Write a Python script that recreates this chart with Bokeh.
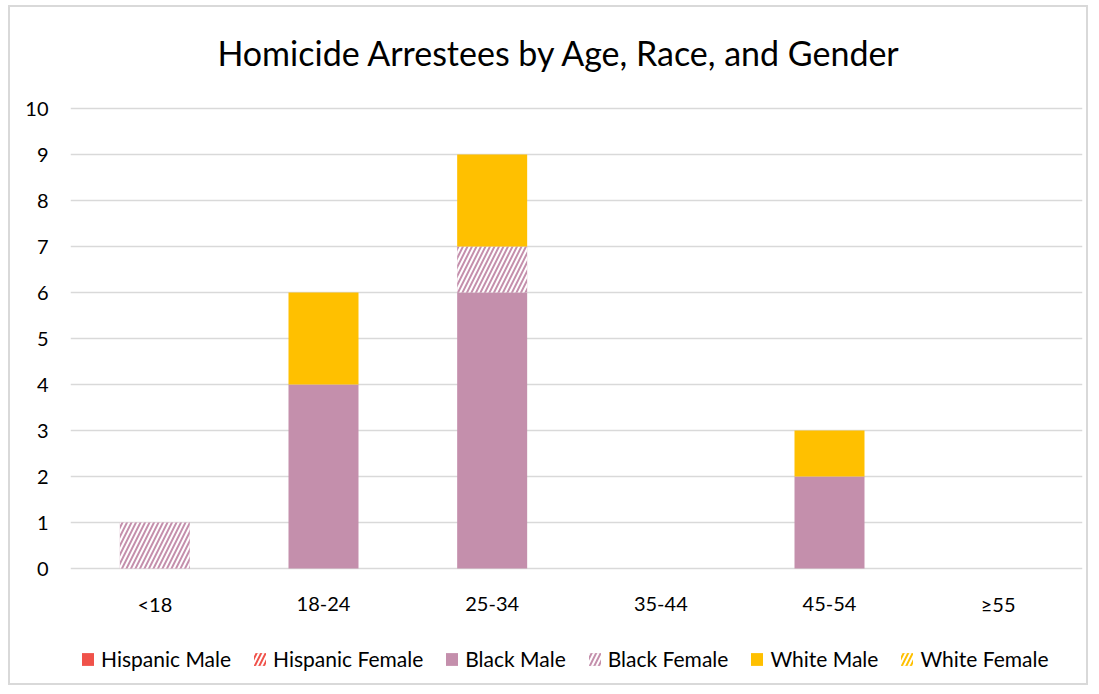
from bokeh.plotting import figure
from bokeh.models import Legend, LegendItem, Label
from bokeh.core.properties import value
from bokeh.embed import file_html
from bokeh.resources import INLINE

title_text = "Homicide Arrestees by Age, Race, and Gender"
categories = ["<18", "18-24", "25-34", "35-44", "45-54", "≥55"]
series = ["Hispanic Male", "Hispanic Female", "Black Male", "Black Female", "White Male", "White Female"]
hispanic_male = [0, 0, 0, 0, 0, 0]
hispanic_female = [0, 0, 0, 0, 0, 0]
black_male = [0, 4, 6, 0, 2, 0]
black_female = [1, 0, 1, 0, 0, 0]
white_male = [0, 2, 2, 0, 1, 0]
white_female = [0, 0, 0, 0, 0, 0]
y_ticks = list(range(0, 11))

colors = ["#F0524A", "#F0524A", "#C48FAC", "#C48FAC", "#FFC000", "#FFC000"]
hatched = [False, True, False, True, False, True]

FONT = "Lato"

# frame extends above 10 and below zero to host the title, category labels and legend
p = figure(x_range=categories, y_range=(-2.5, 12.196), width=1080, height=680,
           output_backend="svg", toolbar_location=None, title=None,
           min_border_left=60, min_border_right=8, min_border_top=0, min_border_bottom=4)
p.styles = {"border": "2px solid #D9D9D9", "margin-left": "8px", "margin-top": "5px"}

p.add_layout(Label(x=2.9, y=11.22, text=title_text, text_font=FONT, text_font_size="34px",
                   text_color="#000000", text_align="center", text_baseline="middle"))

vals = [hispanic_male, hispanic_female, black_male, black_female, white_male, white_female]
bottom = [0] * len(categories)
items = []
for name, v, c, h in zip(series, vals, colors, hatched):
    top = [b + x for b, x in zip(bottom, v)]
    r = p.vbar(x=categories, bottom=bottom, top=top, width=0.415, fill_color=c, line_color=None)
    rs = [r]
    if h:
        r2 = p.vbar(x=categories, bottom=bottom, top=top, width=0.415, fill_color=None, line_color=None,
                    hatch_pattern="right_diagonal_line", hatch_color="white",
                    hatch_weight=2, hatch_scale=9)
        rs.append(r2)
    items.append(LegendItem(label=name, renderers=rs))
    bottom = top

# category labels
p.text(x=categories, y=[-0.78] * len(categories), text=categories,
       text_font=value(FONT), text_font_size="20px", text_color="#000000",
       text_align="center", text_baseline="middle")

legend = Legend(items=items, orientation="horizontal", location=(10, 12),
                label_text_font=FONT, label_text_font_size="21px", label_text_color="#000000",
                glyph_width=15, glyph_height=16, label_standoff=6, spacing=21,
                border_line_color=None, background_fill_alpha=0, margin=0, padding=6)
p.add_layout(legend, "center")

p.xaxis.visible = False
p.yaxis.ticker = y_ticks
p.xgrid.grid_line_color = None
p.ygrid.grid_line_color = "#D9D9D9"
p.ygrid.grid_line_width = 1.5
p.yaxis.axis_line_color = None
p.yaxis.major_tick_line_color = None
p.yaxis.minor_tick_line_color = None
p.yaxis.major_label_text_font = FONT
p.yaxis.major_label_text_font_size = "20px"
p.yaxis.major_label_text_color = "#000000"
p.yaxis.major_label_standoff = 16
p.outline_line_color = None

open("out.html", "w").write(file_html(p, INLINE))
